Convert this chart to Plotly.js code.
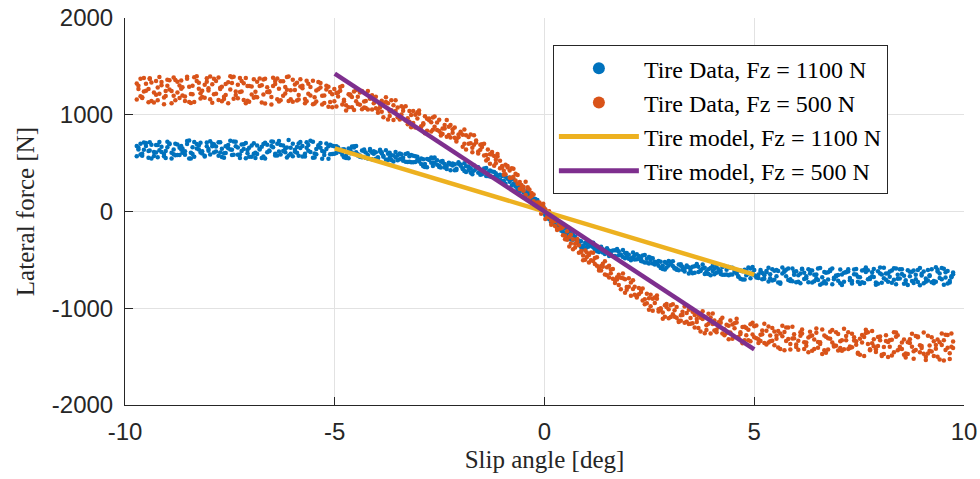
<!DOCTYPE html>
<html>
<head>
<meta charset="utf-8">
<script src="https://cdn.plot.ly/plotly-3.0.1.min.js"></script>
<style>html,body{margin:0;padding:0;background:#fff;}#chart{width:980px;height:479px;}</style>
</head>
<body>
<div id="chart"></div>
<script>
// Slip angle samples [deg], sweep 1 (runs A, B)
const slipAngle1 = [
-9.72,-9.63,-9.55,-9.44,-9.37,-9.26,-9.18,-9.07,-8.99,-8.89,
-8.80,-8.70,-8.63,-8.52,-8.43,-8.35,-8.24,-8.16,-8.05,-7.97,
-7.88,-7.77,-7.69,-7.60,-7.49,-7.41,-7.31,-7.22,-7.12,-7.04,
-6.93,-6.85,-6.74,-6.66,-6.56,-6.47,-6.37,-6.29,-6.18,-6.10,
-6.00,-5.90,-5.82,-5.71,-5.63,-5.52,-5.44,-5.34,-5.25,-5.15,
-5.06,-4.96,-4.87,-4.78,-4.67,-4.59,-4.49,-4.40,-4.30,-4.21,
-4.11,-4.02,-3.92,-3.84,-3.73,-3.65,-3.55,-3.45,-3.37,-3.26,
-3.18,-3.08,-2.99,-2.89,-2.80,-2.70,-2.62,-2.51,-2.43,-2.33,
-2.24,-2.14,-2.05,-1.95,-1.87,-1.76,-1.68,-1.58,-1.49,-1.39,
-1.30,-1.20,-1.12,-1.01,-0.93,-0.83,-0.74,-0.64,-0.55,-0.45,
-0.36,-0.26,-0.17,-0.08,0.02,0.11,0.21,0.30,0.40,0.49,
0.59,0.68,0.78,0.87,0.97,1.06,1.16,1.25,1.35,1.44,
1.54,1.63,1.73,1.82,1.92,2.01,2.11,2.20,2.30,2.39,
2.49,2.58,2.68,2.77,2.87,2.96,3.06,3.15,3.25,3.34,
3.44,3.53,3.63,3.72,3.82,3.91,4.01,4.10,4.20,4.29,
4.39,4.48,4.58,4.67,4.77,4.86,4.96,5.05,5.15,5.24,
5.34,5.43,5.53,5.62,5.72,5.81,5.91,6.00,6.10,6.19,
6.29,6.38,6.48,6.57,6.67,6.76,6.86,6.95,7.05,7.14,
7.24,7.33,7.43,7.52,7.62,7.71,7.81,7.90,8.00,8.09,
8.19,8.28,8.38,8.47,8.57,8.66,8.76,8.85,8.95,9.04,
9.14,9.23,9.33,9.42,9.52,9.61,9.70];

// Slip angle samples [deg], sweep 2 (runs C, D)
const slipAngle2 = [
-9.68,-9.59,-9.50,-9.41,-9.31,-9.22,-9.13,-9.03,-8.94,-8.84,
-8.75,-8.66,-8.57,-8.47,-8.39,-8.29,-8.20,-8.10,-8.01,-7.92,
-7.83,-7.73,-7.64,-7.54,-7.45,-7.36,-7.26,-7.17,-7.08,-6.98,
-6.89,-6.79,-6.70,-6.61,-6.51,-6.42,-6.33,-6.23,-6.14,-6.05,
-5.95,-5.86,-5.77,-5.67,-5.58,-5.48,-5.39,-5.30,-5.20,-5.11,
-5.01,-4.92,-4.82,-4.73,-4.63,-4.54,-4.45,-4.35,-4.26,-4.16,
-4.07,-3.97,-3.88,-3.78,-3.69,-3.60,-3.50,-3.41,-3.31,-3.22,
-3.13,-3.03,-2.94,-2.85,-2.75,-2.66,-2.56,-2.47,-2.38,-2.28,
-2.19,-2.10,-2.00,-1.91,-1.81,-1.72,-1.63,-1.53,-1.44,-1.35,
-1.25,-1.16,-1.06,-0.97,-0.88,-0.78,-0.69,-0.59,-0.50,-0.40,
-0.31,-0.22,-0.12,-0.03,0.07,0.16,0.25,0.35,0.44,0.54,
0.63,0.73,0.82,0.92,1.01,1.11,1.20,1.30,1.39,1.49,
1.58,1.68,1.77,1.87,1.96,2.06,2.15,2.25,2.34,2.44,
2.53,2.63,2.72,2.82,2.91,3.01,3.10,3.20,3.29,3.39,
3.48,3.58,3.67,3.77,3.86,3.96,4.05,4.15,4.24,4.34,
4.43,4.53,4.62,4.72,4.81,4.91,5.00,5.10,5.19,5.29,
5.38,5.48,5.57,5.67,5.76,5.86,5.95,6.05,6.14,6.24,
6.33,6.43,6.52,6.62,6.71,6.81,6.90,7.00,7.09,7.19,
7.28,7.38,7.47,7.57,7.66,7.76,7.85,7.95,8.04,8.14,
8.23,8.33,8.42,8.52,8.61,8.71,8.80,8.90,8.99,9.09,
9.18,9.28,9.37,9.47,9.56,9.66,9.74];

// Lateral force [N], Fz = 1100 N
const force1100RunA = [
572,701,638,556,690,610,719,595,664,548,
700,585,652,728,606,566,681,624,713,590,
610,716,563,675,640,724,586,692,550,660,
706,594,669,547,631,720,579,688,613,738,
571,666,719,597,688,556,645,707,583,674,
680,604,632,560,650,611,677,566,623,585,
606,544,638,565,598,532,558,599,525,603,
510,571,518,539,458,557,504,472,523,440,
426,488,494,447,409,447,475,401,412,367,
423,357,371,309,358,307,334,228,246,187,
168,84,118,26,9,-79,-101,-104,-198,-172,
-272,-242,-310,-307,-393,-318,-370,-401,-365,-439,
-459,-404,-402,-445,-483,-446,-425,-493,-485,-526,
-469,-537,-522,-585,-522,-559,-513,-602,-560,-591,
-575,-638,-543,-616,-581,-646,-616,-572,-645,-563,
-659,-582,-641,-611,-702,-580,-638,-669,-604,-695,
-582,-714,-604,-735,-622,-590,-721,-618,-741,-633,
-598,-735,-650,-585,-720,-628,-752,-661,-600,-726,
-620,-745,-594,-680,-739,-607,-668,-758,-640,-581,
-725,-611,-752,-596,-664,-760,-622,-699,-585,-741,
-604,-730,-577,-688,-756,-615,-670];
const force1100RunB = [
676,590,712,625,547,688,633,570,721,608,
582,659,607,697,549,718,641,600,674,726,
695,575,648,604,731,587,661,626,707,566,
596,681,553,710,622,665,699,589,652,578,
700,607,656,569,629,722,591,660,616,546,
595,674,614,643,551,672,613,580,642,549,
541,612,620,573,533,582,614,539,555,512,
583,512,533,468,542,505,559,460,507,471,
486,426,510,440,468,401,424,457,384,450,
362,407,358,368,287,351,288,238,260,161,
119,135,104,32,-40,-41,-59,-150,-176,-241,
-211,-292,-297,-366,-322,-362,-324,-411,-379,-413,
-405,-461,-387,-452,-429,-488,-472,-443,-511,-449,
-537,-483,-536,-520,-599,-511,-563,-591,-545,-620,
-640,-570,-561,-608,-646,-596,-560,-632,-615,-654,
-574,-652,-623,-694,-603,-641,-574,-683,-623,-659,
-724,-598,-668,-748,-612,-707,-589,-730,-640,-697,
-731,-611,-690,-756,-625,-703,-590,-672,-742,-634,
-598,-718,-652,-750,-604,-701,-628,-733,-579,-690,
-640,-736,-590,-693,-748,-608,-719,-655,-762,-620,
-712,-598,-726,-640,-591,-744,-680];
const force1100RunC = [
640,576,678,717,615,560,668,626,703,593,
692,642,587,548,665,698,611,577,646,675,
621,715,601,653,583,675,552,695,635,567,
607,649,568,689,724,597,619,682,557,658,
639,575,677,716,614,559,667,625,702,592,
674,633,587,552,640,662,591,561,610,628,
597,548,612,632,558,516,582,548,594,514,
575,535,492,460,532,548,483,454,492,505,
476,430,485,500,428,386,443,407,445,367,
413,374,332,296,339,333,259,212,224,199,
142,71,77,55,-42,-111,-98,-162,-161,-253,
-227,-285,-338,-383,-336,-330,-389,-419,-391,-387,
-414,-460,-411,-398,-463,-504,-453,-488,-455,-528,
-478,-519,-561,-595,-533,-522,-581,-607,-570,-559,
-586,-634,-570,-548,-620,-660,-591,-622,-574,-650,
-581,-622,-668,-702,-613,-589,-659,-687,-636,-615,
-648,-705,-614,-579,-670,-718,-622,-660,-591,-690,
-608,-655,-707,-744,-634,-602,-685,-716,-652,-625,
-688,-649,-725,-611,-578,-698,-677,-618,-736,-640,
-675,-586,-694,-645,-711,-624,-740,-605,-662,-727,
-658,-718,-621,-585,-681,-733,-631];
const force1100RunD = [
660,598,709,631,574,687,615,552,694,641,
583,676,622,735,594,650,710,569,629,700,
672,609,556,688,637,722,590,646,603,681,
553,640,697,612,676,578,729,625,662,598,
617,702,569,658,731,600,684,545,645,690,
598,661,640,575,602,674,578,630,556,645,
622,561,600,538,607,580,529,591,515,571,
508,566,549,490,541,470,530,518,456,498,
495,441,472,418,466,409,450,381,420,406,
357,396,380,318,346,270,301,262,196,215,
118,128,37,-12,-15,-52,-140,-130,-210,-215,
-290,-261,-300,-352,-370,-348,-355,-402,-425,-380,
-438,-401,-452,-470,-430,-482,-497,-460,-516,-489,
-500,-548,-511,-560,-578,-540,-590,-549,-601,-570,
-612,-565,-625,-590,-640,-583,-648,-597,-655,-601,
-650,-598,-675,-617,-660,-690,-605,-652,-700,-628,
-690,-612,-735,-640,-603,-700,-655,-725,-597,-668,
-641,-722,-590,-680,-745,-615,-700,-657,-760,-627,
-710,-600,-675,-730,-625,-686,-595,-748,-650,-706,
-620,-705,-655,-596,-738,-668,-610,-729,-643,-692,
-667,-741,-603,-700,-629,-715,-648];

// Lateral force [N], Fz = 500 N
const force500RunA = [
1158,1371,1240,1129,1334,1207,1389,1178,1301,1120,
1360,1173,1285,1394,1215,1131,1330,1248,1378,1160,
1212,1385,1140,1318,1262,1392,1170,1349,1118,1296,
1368,1181,1306,1116,1244,1383,1160,1345,1219,1396,
1135,1332,1368,1162,1320,1109,1250,1329,1122,1290,
1213,1084,1286,1139,1212,1078,1139,1229,1076,1245,
1201,1066,1105,975,1119,1047,1150,950,1042,965,
872,999,1010,913,835,922,982,832,858,772,
765,867,768,794,640,796,691,620,695,528,
591,472,595,457,483,348,358,378,229,308,
228,105,92,-22,22,-59,-40,-190,-174,-250,
-361,-287,-310,-409,-499,-450,-427,-562,-564,-650,
-682,-595,-704,-686,-841,-691,-801,-870,-805,-959,
-897,-1026,-868,-1015,-968,-1103,-1062,-988,-1128,-982,
-1016,-1155,-1112,-1240,-1091,-1161,-1054,-1247,-1151,-1218,
-1321,-1167,-1148,-1248,-1330,-1222,-1150,-1309,-1273,-1359,
-1353,-1204,-1316,-1260,-1434,-1200,-1313,-1374,-1249,-1422,
-1303,-1439,-1210,-1370,-1282,-1427,-1354,-1247,-1410,-1212,
-1249,-1402,-1341,-1481,-1297,-1370,-1235,-1452,-1331,-1400,
-1505,-1325,-1294,-1397,-1481,-1352,-1263,-1432,-1383,-1471,
-1468,-1299,-1419,-1352,-1540,-1276,-1397];
const force500RunB = [
1322,1190,1380,1265,1142,1350,1218,1109,1362,1245,
1150,1302,1198,1372,1121,1388,1270,1183,1341,1395,
1372,1152,1290,1205,1398,1166,1311,1240,1381,1135,
1176,1340,1127,1372,1232,1298,1375,1150,1286,1143,
1362,1148,1293,1120,1218,1352,1137,1281,1199,1083,
1077,1226,1249,1155,1077,1184,1255,1103,1138,1055,
1055,1185,1075,1117,951,1151,1040,974,1074,903,
997,869,1044,898,959,826,875,948,800,947,
894,763,795,670,787,705,787,599,666,583,
494,574,568,469,386,424,442,288,275,171,
143,175,74,61,-77,2,-104,-176,-155,-286,
-264,-389,-283,-421,-402,-526,-511,-472,-610,-513,
-560,-694,-679,-804,-701,-778,-710,-890,-832,-907,
-1016,-901,-901,-1000,-1087,-1011,-959,-1098,-1072,-1150,
-1162,-1036,-1142,-1098,-1259,-1057,-1164,-1223,-1119,-1280,
-1181,-1314,-1109,-1265,-1190,-1332,-1271,-1179,-1339,-1161,
-1188,-1337,-1282,-1420,-1245,-1318,-1190,-1401,-1285,-1352,
-1454,-1281,-1252,-1352,-1433,-1309,-1224,-1387,-1340,-1425,
-1420,-1263,-1376,-1316,-1493,-1248,-1362,-1424,-1293,-1473,
-1348,-1489,-1250,-1416,-1324,-1474,-1398,-1286,-1455,-1250,
-1285,-1447,-1381,-1529,-1330,-1407,-1260];
const force500RunC = [
1265,1172,1320,1376,1229,1150,1306,1245,1357,1197,
1340,1268,1189,1132,1301,1349,1223,1175,1274,1315,
1218,1278,1162,1336,1387,1203,1235,1326,1145,1292,
1238,1374,1209,1284,1183,1317,1138,1345,1258,1159,
1255,1158,1301,1351,1199,1115,1264,1196,1300,1133,
1265,1189,1106,1045,1200,1241,1112,1057,1143,1174,
1118,1021,1145,1181,1033,945,1074,1003,1089,927,
1040,960,874,809,943,971,843,786,858,877,
814,724,825,847,701,612,714,637,701,542,
616,536,448,380,455,446,321,232,256,237,
158,64,94,79,-50,-138,-99,-178,-161,-291,
-240,-334,-426,-505,-423,-424,-542,-610,-572,-577,
-639,-740,-653,-640,-780,-871,-778,-855,-796,-949,
-860,-945,-1034,-1108,-987,-969,-1088,-1141,-1070,-1048,
-1101,-1198,-1071,-1031,-1176,-1261,-1126,-1193,-1099,-1255,
-1126,-1208,-1296,-1363,-1203,-1165,-1300,-1358,-1268,-1233,
-1281,-1383,-1234,-1181,-1339,-1426,-1268,-1335,-1220,-1388,
-1242,-1322,-1409,-1474,-1294,-1244,-1382,-1436,-1331,-1288,
-1395,-1334,-1461,-1276,-1223,-1424,-1392,-1297,-1494,-1338,
-1398,-1249,-1435,-1353,-1468,-1321,-1521,-1292,-1390,-1502,
-1386,-1494,-1324,-1260,-1431,-1524,-1344];
const force500RunD = [
1301,1180,1247,1369,1126,1281,1338,1195,1262,1384,
1229,1355,1141,1290,1212,1397,1167,1310,1251,1124,
1349,1266,1187,1120,1327,1240,1380,1153,1296,1210,
1185,1296,1364,1234,1105,1350,1270,1197,1391,1252,
1312,1203,1274,1140,1288,1180,1339,1105,1262,1234,
1140,1230,1296,1098,1210,1050,1185,1245,1070,1166,
1160,1058,1032,1132,988,1097,975,1088,940,1040,
915,1026,880,985,960,845,920,810,895,790,
850,748,812,700,770,660,735,690,580,640,
590,500,525,420,470,350,390,305,215,250,
190,80,30,50,-10,-95,-150,-130,-245,-205,
-330,-372,-350,-455,-470,-505,-480,-590,-540,-660,
-600,-710,-760,-690,-810,-735,-860,-790,-920,-850,
-980,-890,-1010,-1045,-955,-1090,-1020,-1130,-1035,-1140,
-1160,-1070,-1205,-1110,-1225,-1095,-1230,-1145,-1260,-1170,
-1250,-1155,-1310,-1195,-1280,-1340,-1185,-1320,-1230,-1375,
-1340,-1240,-1405,-1290,-1200,-1370,-1310,-1430,-1260,-1355,
-1290,-1420,-1350,-1220,-1460,-1315,-1395,-1265,-1440,-1330,
-1410,-1300,-1470,-1355,-1255,-1435,-1320,-1390,-1480,-1280,
-1330,-1455,-1280,-1420,-1510,-1360,-1445,-1300,-1410,-1535,
-1440,-1340,-1500,-1380,-1275,-1465,-1410];

// Linear tire models
const modelSlip = [-5, 5];
const model1100 = [653, -653];
const model500 = [1425, -1425];

// Series names
const seriesNames = ['Tire Data, Fz = 1100 N', 'Tire Data, Fz = 500 N',
                     'Tire model, Fz = 1100 N', 'Tire model, Fz = 500 N'];

// Ticks
const xTickVals = [-10, -5, 0, 5, 10];
const xTickText = ['-10', '-5', '0', '5', '10'];
const yTickVals = [-2000, -1000, 0, 1000, 2000];
const yTickText = ['-2000', '-1000', '0', '1000', '2000'];

const axisColor = '#262626';
const gridColor = '#e2e2e2';
const serif = 'Liberation Serif';
const sans = 'Liberation Sans';

const allSlip = slipAngle1.concat(slipAngle1, slipAngle2, slipAngle2);

const traces = [
  {
    type: 'scatter', mode: 'markers', name: seriesNames[0],
    x: allSlip,
    y: force1100RunA.concat(force1100RunB, force1100RunC, force1100RunD),
    marker: {color: '#0072BD', size: 4.5, line: {width: 0}}
  },
  {
    type: 'scatter', mode: 'markers', name: seriesNames[1],
    x: allSlip,
    y: force500RunA.concat(force500RunB, force500RunC, force500RunD),
    marker: {color: '#D95319', size: 4.5, line: {width: 0}}
  },
  {
    type: 'scatter', mode: 'lines', name: seriesNames[2],
    x: modelSlip, y: model1100,
    line: {color: '#EDB120', width: 4.5}
  },
  {
    type: 'scatter', mode: 'lines', name: seriesNames[3],
    x: modelSlip, y: model500,
    line: {color: '#7E2F8E', width: 4.5}
  }
];

const layout = {
  width: 980, height: 479,
  margin: {l: 125, r: 16, t: 18, b: 74},
  paper_bgcolor: '#ffffff', plot_bgcolor: '#ffffff',
  font: {family: sans, size: 24, color: axisColor},
  showlegend: true,
  xaxis: {
    range: [-10, 10], autorange: false,
    tickmode: 'array', tickvals: xTickVals, ticktext: xTickText,
    ticks: 'inside', ticklen: 8, tickwidth: 1, tickcolor: axisColor,
    showline: true, linecolor: axisColor, linewidth: 1, mirror: false,
    showgrid: true, gridcolor: gridColor, gridwidth: 1, zeroline: false,
    tickfont: {family: sans, size: 24, color: axisColor},
    ticklabelstandoff: 5,
    automargin: false,
    title: {text: 'Slip angle [deg]', font: {family: serif, size: 25, color: axisColor}, standoff: 6}
  },
  yaxis: {
    range: [-2000, 2000], autorange: false,
    tickmode: 'array', tickvals: yTickVals, ticktext: yTickText,
    ticks: 'inside', ticklen: 8, tickwidth: 1, tickcolor: axisColor,
    showline: true, linecolor: axisColor, linewidth: 1, mirror: false,
    showgrid: true, gridcolor: gridColor, gridwidth: 1, zeroline: false,
    tickfont: {family: sans, size: 24, color: axisColor},
    ticklabelstandoff: 6,
    automargin: false,
    title: {text: 'Lateral force [N]', font: {family: serif, size: 25, color: axisColor}, standoff: 10}
  },
  legend: {
    x: 0.51, y: 0.93, xanchor: 'left', yanchor: 'top',
    bgcolor: '#ffffff', bordercolor: axisColor, borderwidth: 1,
    font: {family: serif, size: 24, color: '#000000'},
    itemsizing: 'constant', itemwidth: 80,
    entrywidth: 305, entrywidthmode: 'pixels'
  }
};

Plotly.newPlot('chart', traces, layout, {staticPlot: true, displayModeBar: false});
</script>
</body>
</html>
